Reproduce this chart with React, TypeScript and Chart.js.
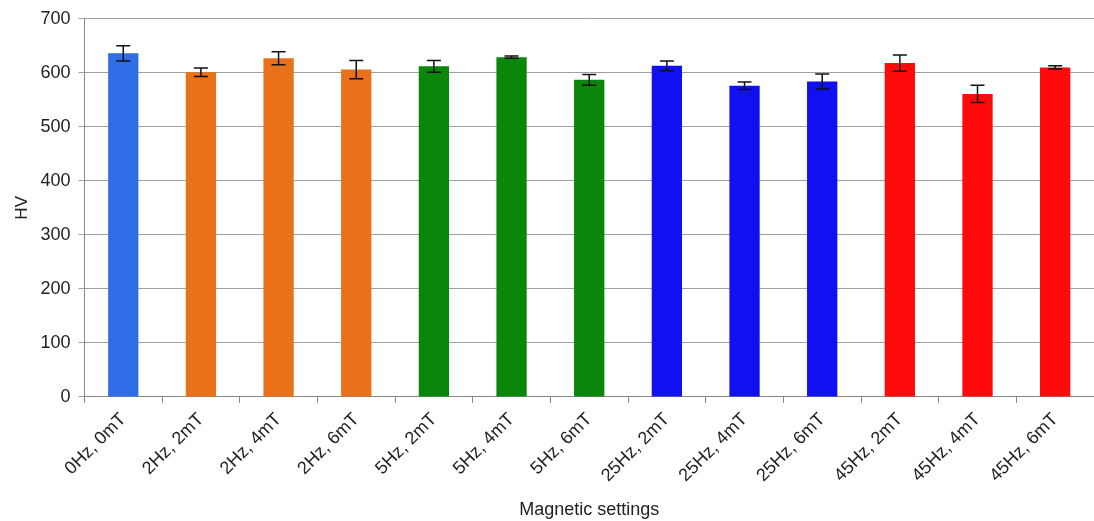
import React, { useEffect, useRef } from "react";
import { Chart, registerables } from "chart.js";

Chart.register(...registerables);

const categories = [
  "0Hz, 0mT",
  "2Hz, 2mT",
  "2Hz, 4mT",
  "2Hz, 6mT",
  "5Hz, 2mT",
  "5Hz, 4mT",
  "5Hz, 6mT",
  "25Hz, 2mT",
  "25Hz, 4mT",
  "25Hz, 6mT",
  "45Hz, 2mT",
  "45Hz, 4mT",
  "45Hz, 6mT",
];

// Mean Vickers hardness per magnetic setting
const hardness = [636, 601, 627, 606, 612, 629, 587, 613, 576, 584, 618, 561, 610];

// Standard deviation shown as error bars
const deviation = [14, 8, 12, 17, 11, 2, 10, 9, 7, 14, 15, 16, 3];

const barColors = [
  "#2f6ee6",
  "#e9711a",
  "#e9711a",
  "#e9711a",
  "#0a860a",
  "#0a860a",
  "#0a860a",
  "#1010f0",
  "#1010f0",
  "#1010f0",
  "#ff0a0a",
  "#ff0a0a",
  "#ff0a0a",
];

const yTicks = [0, 100, 200, 300, 400, 500, 600, 700];

const errorBarPlugin = {
  id: "errorBars",
  afterDatasetsDraw(chart: any) {
    const { ctx, scales } = chart;
    const xs = scales.x;
    const ys = scales.y;
    ctx.save();
    ctx.strokeStyle = "#111";
    ctx.lineWidth = 1.5;
    hardness.forEach((v, i) => {
      const x = xs.getPixelForValue(i);
      const top = ys.getPixelForValue(v + deviation[i]);
      const bot = ys.getPixelForValue(v - deviation[i]);
      const cap = 7;
      ctx.beginPath();
      ctx.moveTo(x, top);
      ctx.lineTo(x, bot);
      ctx.moveTo(x - cap, top);
      ctx.lineTo(x + cap, top);
      ctx.moveTo(x - cap, bot);
      ctx.lineTo(x + cap, bot);
      ctx.stroke();
    });
    ctx.restore();
  },
};

export default function App() {
  const canvasRef = useRef<HTMLCanvasElement | null>(null);

  useEffect(() => {
    document.body.style.margin = "0";
    const canvas = canvasRef.current;
    if (!canvas) return;
    const font = "'Liberation Sans', Arial, sans-serif";
    const chart = new Chart(canvas, {
      type: "bar",
      data: {
        labels: categories,
        datasets: [
          {
            data: hardness,
            backgroundColor: barColors,
            borderWidth: 0,
            categoryPercentage: 1,
            barPercentage: 0.39,
          },
        ],
      },
      options: {
        animation: false,
        responsive: false,
        maintainAspectRatio: false,
        layout: { padding: { top: 13, right: 0, left: 12, bottom: 0 } },
        plugins: {
          legend: { display: false },
          tooltip: { enabled: false },
        },
        scales: {
          x: {
            offset: true,
            grid: {
              offset: true,
              drawOnChartArea: false,
              drawTicks: true,
              tickLength: 6,
              color: "#888",
            },
            border: { display: true, color: "#888", width: 1 },
            ticks: {
              color: "#222",
              font: { family: font, size: 18 },
              maxRotation: 45,
              minRotation: 45,
              autoSkip: false,
              padding: 6,
            },
            title: {
              display: true,
              text: "Magnetic settings",
              color: "#222",
              font: { family: font, size: 18 },
              padding: { top: 7, bottom: 0 },
            },
          },
          y: {
            min: 0,
            max: 700,
            afterBuildTicks(axis: any) {
              axis.ticks = yTicks.map((v) => ({ value: v }));
            },
            grid: {
              color: "#a0a0a0",
              lineWidth: 1,
              drawTicks: true,
              tickLength: 6,
            },
            border: { display: true, color: "#888", width: 1 },
            ticks: {
              color: "#222",
              font: { family: font, size: 18 },
              padding: 8,
            },
            title: {
              display: true,
              text: "HV",
              color: "#222",
              font: { family: font, size: 17 },
              padding: { top: 0, bottom: 0 },
            },
          },
        },
      },
      plugins: [errorBarPlugin],
    });
    return () => chart.destroy();
  }, []);

  return (
    <div style={{ position: "absolute", left: 0, top: 0, width: 1094, height: 521, background: "#fff" }}>
      <canvas ref={canvasRef} width={1094} height={521} style={{ display: "block" }} />
    </div>
  );
}
